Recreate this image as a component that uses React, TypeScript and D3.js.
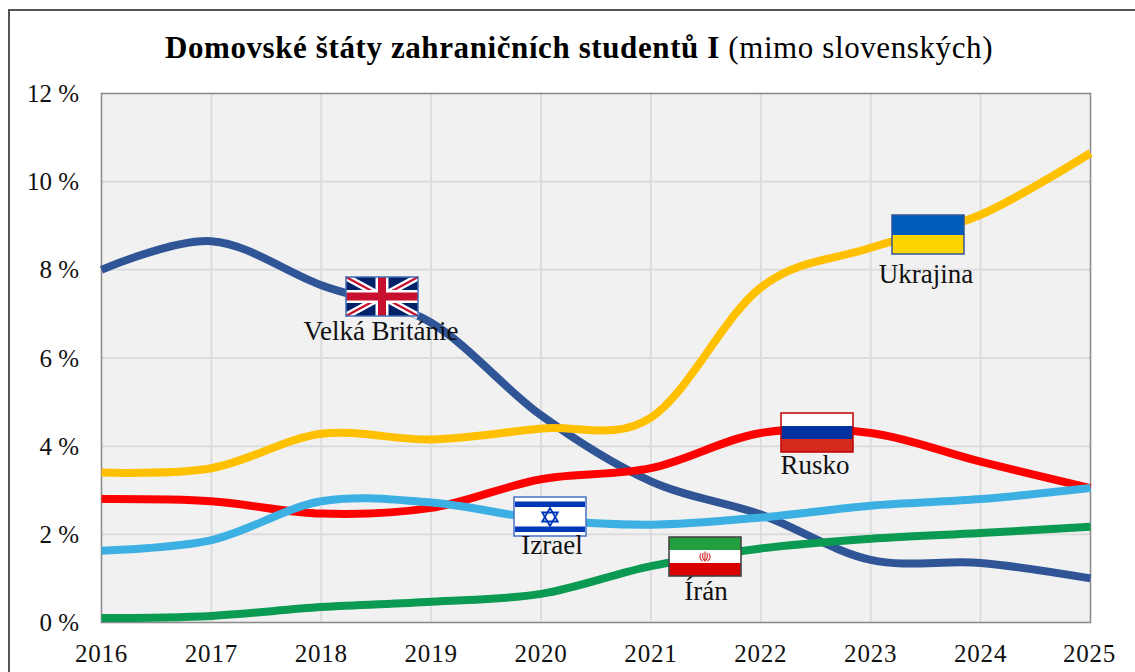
import React from "react";
import * as d3 from "d3";

const years = [2016, 2017, 2018, 2019, 2020, 2021, 2022, 2023, 2024, 2025];
const yTicks = [0, 2, 4, 6, 8, 10, 12];
const ukraine = [3.4, 3.5, 4.28, 4.15, 4.4, 4.65, 7.6, 8.5, 9.25, 10.65];
const britain = [8.0, 8.65, 7.65, 6.8, 4.7, 3.2, 2.45, 1.42, 1.35, 1.0];
const russia = [2.8, 2.75, 2.47, 2.6, 3.25, 3.5, 4.3, 4.3, 3.65, 3.05];
const israel = [1.63, 1.87, 2.75, 2.72, 2.35, 2.22, 2.38, 2.65, 2.8, 3.05];
const iran = [0.1, 0.15, 0.35, 0.47, 0.65, 1.28, 1.68, 1.9, 2.03, 2.17];

const W = 1135, H = 672;
const FONT = "'Liberation Serif', serif";
const x = d3.scaleLinear().domain([2016, 2025]).range([101.5, 1090.5]);
const y = d3.scaleLinear().domain([0, 12]).range([622.5, 93.5]);
const line = d3.line<number>().x((_, i) => x(years[i])).y((d) => y(d)).curve(d3.curveCatmullRom.alpha(0));

const series = [
  { name: "Velká Británia", values: britain, color: "#2F5597" },
  { name: "Ukrajina", values: ukraine, color: "#FFC000" },
  { name: "Rusko", values: russia, color: "#FF0000" },
  { name: "Izrael", values: israel, color: "#3CB0E3" },
  { name: "Irán", values: iran, color: "#0B9A52" },
];

const FW = 72, FH = 39;

function UK() {
  const w = FW, h = FH;
  return (
    <g>
      <rect width={w} height={h} fill="#012169" />
      <path d={`M0,0L${w},${h}M${w},0L0,${h}`} stroke="#fff" strokeWidth={7} />
      <path d={`M0,0L${w},${h}M${w},0L0,${h}`} stroke="#C8102E" strokeWidth={2.2} />
      <path d={`M${w / 2},0V${h}M0,${h / 2}H${w}`} stroke="#fff" strokeWidth={13} />
      <path d={`M${w / 2},0V${h}M0,${h / 2}H${w}`} stroke="#C8102E" strokeWidth={8} />
      <rect x={0} y={0} width={w} height={h} fill="none" stroke="#3F6FB5" strokeWidth={1.5} />
    </g>
  );
}
function Israel() {
  const cx = FW / 2, cy = FH / 2 + 0.5, r = 9;
  const tri = (a: number) => d3.range(3).map((i) => {
    const t = a + (i * 2 * Math.PI) / 3;
    return `${cx + r * Math.sin(t)},${cy - r * Math.cos(t)}`;
  }).join(" ");
  return (
    <g>
      <rect width={FW} height={FH} fill="#fff" />
      <rect x={1} y={4.5} width={FW - 2} height={5.5} fill="#0038B8" />
      <rect x={1} y={29.5} width={FW - 2} height={5.5} fill="#0038B8" />
      <polygon points={tri(0)} fill="none" stroke="#0038B8" strokeWidth={1.8} />
      <polygon points={tri(Math.PI)} fill="none" stroke="#0038B8" strokeWidth={1.8} />
      <rect width={FW} height={FH} fill="none" stroke="#4472C4" strokeWidth={1.5} />
    </g>
  );
}
function Iran() {
  const cx = FW / 2, cy = FH / 2;
  return (
    <g>
      <rect width={FW} height={13} fill="#239F40" />
      <rect y={13} width={FW} height={13} fill="#fff" />
      <rect y={26} width={FW} height={13} fill="#DA0000" />
      <g fill="none" stroke="#DA3A3A" strokeWidth={1.2}>
        <path d={`M${cx},${cy - 5}V${cy + 5}`} />
        <path d={`M${cx - 2},${cy - 3.5}C${cx - 2.8},${cy},${cx - 2},${cy + 3},${cx},${cy + 4}C${cx + 2},${cy + 3},${cx + 2.8},${cy},${cx + 2},${cy - 3.5}`} />
        <path d={`M${cx - 4},${cy - 3}C${cx - 6},${cy},${cx - 5},${cy + 3},${cx - 2.5},${cy + 4.5}M${cx + 4},${cy - 3}C${cx + 6},${cy},${cx + 5},${cy + 3},${cx + 2.5},${cy + 4.5}`} />
      </g>
      <rect width={FW} height={FH} fill="none" stroke="#444" strokeWidth={1.6} />
    </g>
  );
}
function Russia() {
  return (
    <g>
      <rect width={FW} height={13} fill="#fff" />
      <rect y={13} width={FW} height={13} fill="#0033A0" />
      <rect y={26} width={FW} height={13} fill="#D52B1E" />
      <rect width={FW} height={FH} fill="none" stroke="#C00000" strokeWidth={1.5} />
    </g>
  );
}
function Ukraine() {
  return (
    <g>
      <rect width={FW} height={20} fill="#005BBB" />
      <rect y={20} width={FW} height={19} fill="#FFD500" />
      <rect width={FW} height={FH} fill="none" stroke="#2F5597" strokeWidth={1.5} />
    </g>
  );
}

const annotations = [
  { label: "Velká Británie", Flag: UK, fx: 346, fy: 277, lx: 381, ly: 340 },
  { label: "Izrael", Flag: Israel, fx: 514, fy: 497, lx: 552, ly: 554 },
  { label: "Írán", Flag: Iran, fx: 669, fy: 537, lx: 706, ly: 600 },
  { label: "Rusko", Flag: Russia, fx: 781, fy: 413, lx: 815, ly: 474 },
  { label: "Ukrajina", Flag: Ukraine, fx: 892, fy: 215, lx: 926, ly: 283 },
];

export default function App() {
  return (
    <svg width={W} height={H} viewBox={`0 0 ${W} ${H}`} style={{ position: "absolute", left: 0, top: 0, display: "block", background: "#fff" }} fontFamily={FONT}>
      <path d={`M9,${H}V10H${W}`} fill="none" stroke="#555" strokeWidth={2} />
      <text x={579} y={58} textAnchor="middle" fontSize={31} letterSpacing={0.6} fill="#000">
        <tspan fontWeight="bold">Domovské štáty zahraničních studentů I</tspan>
        <tspan> (mimo slovenských)</tspan>
      </text>
      <rect x={x(2016)} y={y(12)} width={x(2025) - x(2016)} height={y(0) - y(12)} fill="#F1F1F1" />
      {yTicks.slice(1, -1).map((t) => (
        <line key={t} x1={x(2016)} x2={x(2025)} y1={y(t)} y2={y(t)} stroke="#DCDCDC" strokeWidth={2} />
      ))}
      {years.slice(1, -1).map((t) => (
        <line key={t} x1={x(t)} x2={x(t)} y1={y(12)} y2={y(0)} stroke="#DCDCDC" strokeWidth={2} />
      ))}
      <rect x={x(2016)} y={y(12)} width={x(2025) - x(2016)} height={y(0) - y(12)} fill="none" stroke="#8C8C8C" strokeWidth={1.6} />
      {yTicks.map((t) => (
        <text key={t} x={79} y={y(t) + 8.5} textAnchor="end" fontSize={25} fill="#111">{t} %</text>
      ))}
      {years.map((t) => (
        <text key={t} x={x(t) + (t === 2025 ? -1 : 0)} y={662} textAnchor="middle" fontSize={25} letterSpacing={0.8} fill="#111">{t}</text>
      ))}
      {series.map((s) => (
        <path key={s.name} d={line(s.values) ?? ""} fill="none" stroke={s.color} strokeWidth={8} />
      ))}
      {annotations.map((a) => (
        <g key={a.label}>
          <g transform={`translate(${a.fx},${a.fy})`}><a.Flag /></g>
          <text x={a.lx} y={a.ly} textAnchor="middle" fontSize={27} fill="#111">{a.label}</text>
        </g>
      ))}
    </svg>
  );
}
